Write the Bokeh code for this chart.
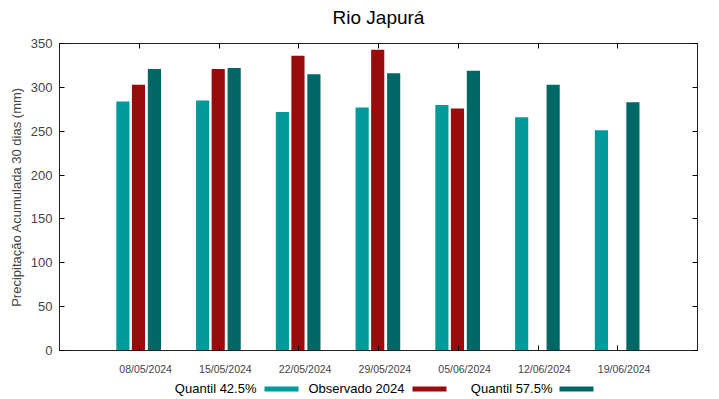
from bokeh.plotting import figure
from bokeh.layouts import column
from bokeh.models import (Range1d, FixedTicker, LinearAxis, Label, BoxAnnotation,
                          ColumnDataSource)
from bokeh.transform import dodge
from bokeh.embed import file_html
from bokeh.resources import INLINE

# ---- data ----
title_text = "Rio Japurá"
dates = ["08/05/2024", "15/05/2024", "22/05/2024", "29/05/2024",
         "05/06/2024", "12/06/2024", "19/06/2024"]
quantil_425 = [284, 285, 272, 277, 280, 266, 251]
observado_2024 = [303, 321, 336, 343, 276, None, None]
quantil_575 = [321, 322, 315, 316, 319, 303, 283]
y_ticks = [0, 50, 100, 150, 200, 250, 300, 350]
series_names = ["Quantil 42.5%", "Observado 2024", "Quantil 57.5%"]

# ---- styles ----
C_TEAL = "#009a9a"
C_RED = "#990c0c"
C_DARK = "#006767"
FONT = "Liberation Sans"
AX = "#202020"

idx = list(range(len(dates)))
src = ColumnDataSource(dict(
    x=idx,
    q1=quantil_425,
    obs=[float("nan") if v is None else v for v in observado_2024],
    q2=quantil_575,
))

W = 719
H_TITLE = 30
H_MAIN = 348
H_LEG = 21
FRAME_W = 638


def strip(h):
    f = figure(width=W, height=h, output_backend="svg", toolbar_location=None,
               x_range=Range1d(0, W), y_range=Range1d(0, h), title=None,
               min_border=0, x_axis_type=None, y_axis_type=None)
    f.outline_line_color = None
    f.xgrid.grid_line_color = None
    f.ygrid.grid_line_color = None
    return f


# ---- title strip ----
tfig = strip(H_TITLE)
tfig.add_layout(Label(x=FRAME_W / 2, y=13, x_units="screen", y_units="screen",
                      text=title_text, text_align="center", text_baseline="middle",
                      text_font=FONT, text_font_size="19px", text_color="#000000"))

# ---- main plot ----
p = figure(width=W, height=H_MAIN, output_backend="svg", toolbar_location=None,
           title=None,
           x_range=Range1d(-1, len(dates)), y_range=Range1d(0, 350),
           min_border_left=59, min_border_right=22, min_border_top=13,
           min_border_bottom=28, x_axis_type=None, y_axis_type=None)

p.outline_line_color = AX
p.outline_line_width = 1
p.background_fill_color = "white"
p.border_fill_color = "white"

bw = 0.165
p.vbar(x=dodge("x", -0.205, range=p.x_range), top="q1", width=bw, bottom=0,
       source=src, fill_color=C_TEAL, line_color=None)
p.vbar(x=dodge("x", -0.01, range=p.x_range), top="obs", width=bw, bottom=0,
       source=src, fill_color=C_RED, line_color=None)
p.vbar(x=dodge("x", 0.19, range=p.x_range), top="q2", width=bw, bottom=0,
       source=src, fill_color=C_DARK, line_color=None)

# y axis left
yl = LinearAxis(ticker=FixedTicker(ticks=y_ticks))
yl.axis_label = "Precipitação Acumulada 30 dias (mm)"
yl.axis_label_text_font = FONT
yl.axis_label_text_font_size = "13px"
yl.axis_label_text_font_style = "normal"
yl.axis_label_standoff = 4
yl.major_label_text_font = FONT
yl.major_label_text_font_size = "13px"
yl.major_label_standoff = 7
yl.major_tick_in = 5
yl.major_tick_out = 0
yl.minor_tick_line_color = None
yl.axis_line_color = AX
p.add_layout(yl, "left")

# right mirror (ticks only)
yr = LinearAxis(ticker=FixedTicker(ticks=y_ticks))
yr.major_label_overrides = {t: "" for t in y_ticks}
yr.major_tick_in = 5
yr.major_tick_out = 0
yr.major_label_standoff = 0
yr.minor_tick_line_color = None
yr.axis_line_color = AX
p.add_layout(yr, "right")

# bottom axis: labels slightly right of the ticks, ticks at categories (minor)
label_pos = [i + 0.08 for i in idx]
xb = LinearAxis(ticker=FixedTicker(ticks=label_pos, minor_ticks=idx))
xb.major_label_overrides = {pos: d for pos, d in zip(label_pos, dates)}
xb.major_label_text_font = FONT
xb.major_label_text_font_size = "10.5px"
xb.major_label_standoff = 6
xb.major_tick_line_color = None
xb.minor_tick_in = 5
xb.minor_tick_out = 0
xb.axis_line_color = AX
p.add_layout(xb, "below")

# top mirror (ticks only)
xt = LinearAxis(ticker=FixedTicker(ticks=idx))
xt.major_label_overrides = {t: "" for t in idx}
xt.major_tick_in = 5
xt.major_tick_out = 0
xt.major_label_standoff = 0
xt.minor_tick_line_color = None
xt.axis_line_color = AX
p.add_layout(xt, "above")

# grid
p.ygrid.ticker = FixedTicker(ticks=y_ticks)
p.ygrid.grid_line_color = "#8a8a8a"
p.ygrid.grid_line_dash = "1 2"
p.ygrid.grid_line_width = 1
p.xgrid.grid_line_color = None

# ---- legend strip (text then swatch); frame is aligned with the plot frame ----
leg = strip(H_LEG)
legend_specs = [
    (series_names[0], C_TEAL, 197, 205),
    (series_names[1], C_RED, 345, 353),
    (series_names[2], C_DARK, 493, 500),
]
for name, col, tx, sx in legend_specs:
    leg.add_layout(Label(x=tx, y=11, x_units="screen", y_units="screen",
                         text=name, text_align="right", text_baseline="middle",
                         text_font=FONT, text_font_size="13px", text_color="#000000"))
    leg.add_layout(BoxAnnotation(left=sx, right=sx + 34, bottom=8, top=13,
                                 left_units="screen", right_units="screen",
                                 bottom_units="screen", top_units="screen",
                                 fill_color=col, fill_alpha=1.0, line_color=None))

layout = column(tfig, p, leg, spacing=0)
open("out.html", "w").write(file_html(layout, INLINE))
